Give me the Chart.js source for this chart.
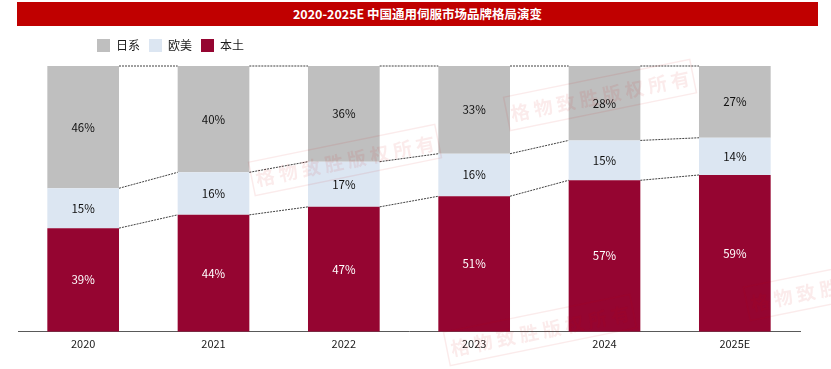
<!DOCTYPE html>
<html>
<head>
<meta charset="utf-8">
<script src="https://cdn.jsdelivr.net/npm/chart.js@4.4.1/dist/chart.umd.min.js"></script>
<style>
  html, body { margin: 0; padding: 0; background: #fff; }
  #wrap { position: relative; width: 831px; height: 369px; }
  #title {
    position: absolute; left: 17px; top: 2px; width: 801px; height: 24px;
    background: #C00000; color: #fff; font: bold 12.5px "Noto Sans CJK SC", sans-serif;
    line-height: 24px; text-align: center;
  }
  canvas { position: absolute; left: 0; top: 0; }
</style>
</head>
<body>
<div id="wrap">
  <canvas id="chart" width="831" height="369"></canvas>
  <div id="title">2020-2025E 中国通用伺服市场品牌格局演变</div>
</div>
<script>
'use strict';

var years = ['2020', '2021', '2022', '2023', '2024', '2025E'];
var local = [39, 44, 47, 51, 57, 59];     // 本土
var western = [15, 16, 17, 16, 15, 14];   // 欧美
var japanese = [46, 40, 36, 33, 28, 27];  // 日系

var FONT = '"Noto Sans CJK SC", "Noto Sans", sans-serif';

// dashed lines linking the segment tops across the gaps
var connectorPlugin = {
    id: 'connectors',
    afterDatasetsDraw: function (chart) {
        var ctx = chart.ctx;
        ctx.save();
        ctx.strokeStyle = '#404040';
        ctx.lineWidth = 1;
        ctx.setLineDash([2, 1]);
        chart.data.datasets.forEach(function (ds, d) {
            var meta = chart.getDatasetMeta(d);
            for (var i = 0; i < meta.data.length - 1; i++) {
                var a = meta.data[i], b = meta.data[i + 1];
                ctx.beginPath();
                ctx.moveTo(a.x + a.width / 2, a.y);
                ctx.lineTo(b.x - b.width / 2, b.y);
                ctx.stroke();
            }
        });
        ctx.restore();
    }
};

var labelPlugin = {
    id: 'segLabels',
    afterDatasetsDraw: function (chart) {
        var ctx = chart.ctx;
        ctx.save();
        ctx.font = '11.5px ' + FONT;
        ctx.textAlign = 'center';
        ctx.textBaseline = 'middle';
        chart.data.datasets.forEach(function (ds, d) {
            var meta = chart.getDatasetMeta(d);
            meta.data.forEach(function (bar, i) {
                ctx.fillStyle = d === 0 ? '#ffffff' : '#111111';
                ctx.fillText(ds.data[i] + '%', bar.x, (bar.y + bar.base) / 2);
            });
        });
        ctx.restore();
    }
};

// faint copyright stamps
var stampPlugin = {
    id: 'stamps',
    afterDraw: function (chart) {
        var ctx = chart.ctx;
        var spots = [[345, 160], [600, 95], [540, 330], [840, 285]];
        ctx.save();
        spots.forEach(function (p) {
            ctx.save();
            ctx.translate(p[0], p[1]);
            ctx.rotate(-0.2);
            ctx.globalAlpha = 0.08;
            ctx.strokeStyle = '#d00000';
            ctx.fillStyle = '#d00000';
            ctx.lineWidth = 1.5;
            ctx.strokeRect(-95, -17, 190, 34);
            ctx.font = 'bold 19px ' + FONT;
            ctx.textAlign = 'center';
            ctx.textBaseline = 'middle';
            ctx.fillText('格 物 致 胜 版 权 所 有', 0, 1);
            ctx.restore();
        });
        ctx.restore();
    }
};

// move the legend to sit left, as in the source
var legendShift = {
    id: 'legendShift',
    afterLayout: function (chart) {
        chart.legend.left += 70;
        chart.legend.right += 70;
        chart.legend.top -= 4;
        chart.legend.bottom -= 4;
    }
};

var ctx = document.getElementById('chart').getContext('2d');
new Chart(ctx, {
    type: 'bar',
    data: {
        labels: years,
        datasets: [{
            label: '本土',
            data: local,
            backgroundColor: '#950531'
        }, {
            label: '欧美',
            data: western,
            backgroundColor: '#DCE6F2'
        }, {
            label: '日系',
            data: japanese,
            backgroundColor: '#BFBFBF'
        }]
    },
    options: {
        responsive: false,
        animation: false,
        events: [],
        categoryPercentage: 1,
        barPercentage: 0.55,
        layout: { padding: { left: 18, right: 31, top: 34, bottom: 14 } },
        plugins: {
            legend: {
                position: 'top',
                align: 'start',
                reverse: true,
                labels: {
                    boxWidth: 13,
                    boxHeight: 13,
                    padding: 9,
                    color: '#1a1a1a',
                    font: { family: FONT, size: 12 }
                }
            },
            tooltip: { enabled: false }
        },
        scales: {
            x: {
                stacked: true,
                grid: { display: false, drawTicks: false },
                border: { display: true, color: '#595959', width: 1 },
                ticks: { color: '#1a1a1a', font: { family: FONT, size: 11 }, padding: 5 }
            },
            y: {
                stacked: true,
                display: false,
                min: 0,
                max: 100
            }
        }
    },
    plugins: [connectorPlugin, labelPlugin, stampPlugin, legendShift]
});
</script>
</body>
</html>
